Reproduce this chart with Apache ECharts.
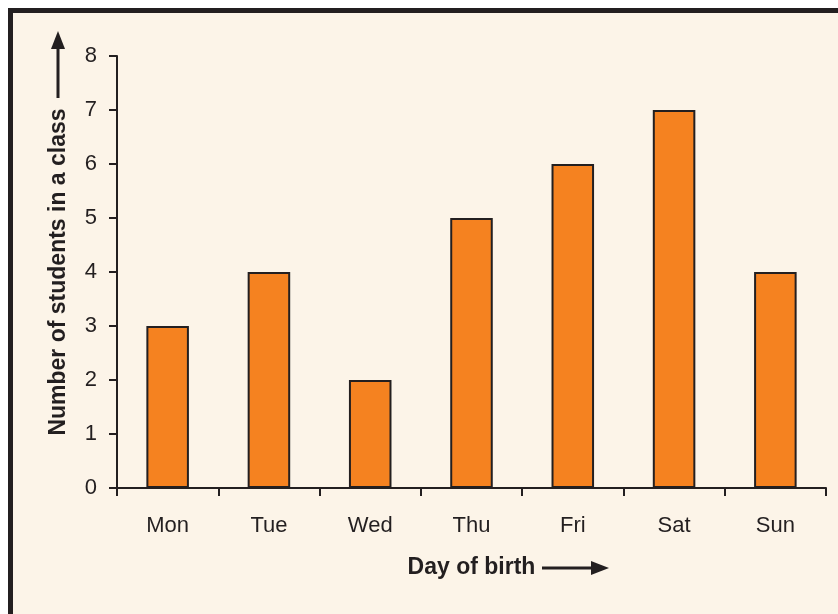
<!DOCTYPE html>
<html>
<head>
<meta charset="utf-8">
<script src="https://cdn.jsdelivr.net/npm/echarts@6/dist/echarts.min.js"></script>
<style>
  html, body { margin: 0; padding: 0; background: #ffffff; }
  #chart { width: 838px; height: 614px; }
</style>
</head>
<body>
<div id="chart"></div>
<script>
// data
const days = ['Mon', 'Tue', 'Wed', 'Thu', 'Fri', 'Sat', 'Sun'];
const students = [3, 4, 2, 5, 6, 7, 4];

const ink = '#231f20';
const chart = echarts.init(document.getElementById('chart'));

const option = {
  backgroundColor: '#ffffff',
  animation: false,
  textStyle: { fontFamily: 'Liberation Sans, Arial, sans-serif', color: ink },
  grid: { left: 117, right: 12, top: 56, bottom: 126 },
  // frame + arrows are just decoration
  graphic: [
    {
      type: 'rect', z: -10, silent: true,
      shape: { x: 10.5, y: 10.5, width: 900, height: 700 },
      style: { fill: '#fcf4e8', stroke: ink, lineWidth: 5 }
    },
    {
      type: 'line', silent: true,
      shape: { x1: 58, y1: 98, x2: 58, y2: 46 },
      style: { stroke: ink, lineWidth: 3 }
    },
    {
      type: 'polygon', silent: true,
      shape: { points: [[58, 31], [51, 49], [65, 49]] },
      style: { fill: ink }
    },
    {
      type: 'line', silent: true,
      shape: { x1: 542, y1: 568, x2: 594, y2: 568 },
      style: { stroke: ink, lineWidth: 3 }
    },
    {
      type: 'polygon', silent: true,
      shape: { points: [[609, 568], [591, 561], [591, 575]] },
      style: { fill: ink }
    }
  ],
  xAxis: {
    type: 'category',
    data: days,
    name: 'Day of birth',
    nameLocation: 'middle',
    nameGap: 68,
    nameTextStyle: { fontSize: 23, fontWeight: 'bold', color: ink },
    axisLine: { lineStyle: { color: ink, width: 2 } },
    axisTick: { show: true, alignWithLabel: false, length: 8, lineStyle: { color: ink, width: 2 } },
    axisLabel: { fontSize: 22, color: ink, margin: 27 }
  },
  yAxis: {
    type: 'value',
    min: 0,
    max: 8,
    interval: 1,
    name: 'Number of students in a class',
    nameLocation: 'middle',
    nameRotate: 90,
    nameGap: 47,
    nameTextStyle: { fontSize: 23, fontWeight: 'bold', color: ink },
    splitLine: { show: false },
    axisLine: { show: true, lineStyle: { color: ink, width: 2 } },
    axisTick: { show: true, length: 8, lineStyle: { color: ink, width: 2 } },
    axisLabel: { fontSize: 22, color: ink, margin: 20 }
  },
  series: [
    {
      type: 'bar',
      data: students,
      barWidth: '42%',
      itemStyle: { color: '#f58220', borderColor: ink, borderWidth: 2 }
    }
  ]
};

chart.setOption(option);
</script>
</body>
</html>
